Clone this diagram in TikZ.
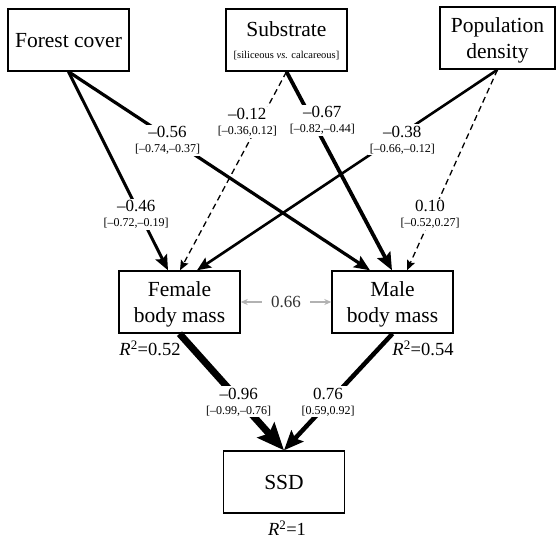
\documentclass[tikz,border=0pt]{standalone}
\usepackage{fontspec}
\setmainfont{Liberation Serif}
\usetikzlibrary{arrows.meta}
\newcommand{\coef}[2]{{\fontsize{17}{17}\selectfont #1}\\{\fontsize{12}{12}\selectfont #2}}
\newcommand{\rsq}[1]{\textit{R}\textsuperscript{2}=#1}
\begin{document}
\begin{tikzpicture}[x=1pt,y=-1pt,
    box/.style={draw, line width=1.4pt, minimum width=121pt, minimum height=62pt,
      align=center, inner sep=1pt, text depth=0pt, font=\fontsize{21.5}{26}\selectfont},
    eff/.style={line width=#1, -{Stealth[length=6pt 3, width=5pt 2.5, inset=1pt 0.5]}},
    eff/.default=3pt,
    ns/.style={eff=1.3pt, dash pattern=on 6pt off 4pt},
    lab/.style={fill=white, align=center, inner sep=1.5pt, font=\fontsize{12}{15}\selectfont},
    cor/.style={gray!60, line width=1.2pt, {Stealth[length=7pt,width=6pt]}-{Stealth[length=7pt,width=6pt]}},
    rlab/.style={inner sep=0pt, font=\fontsize{18.5}{20}\selectfont}]
  \useasboundingbox (0,0) rectangle (557,539);
  % boxes
  \node[box] (forest) at (68.5,40) {Forest cover};
  \node[box] (subst) at (286.5,40) {Substrate\\[-4pt]{\fontsize{10.5}{12}\selectfont [siliceous \textit{vs.} calcareous]}};
  \node[box, minimum width=115pt] (popd) at (497.5,38) {Population\\density};
  \node[box] (fem) at (179.5,302) {Female\\body mass};
  \node[box] (male) at (392.5,302) {Male\\body mass};
  \node[box] (ssd) at (284,482) {SSD};
  % R squared
  \node[rlab] (r2f) at (150,348) {\rsq{0.52}};
  \node[rlab] (r2m) at (423,348) {\rsq{0.54}};
  \node[rlab] (r2s) at (287,528) {\rsq{1}};
  % paths to body mass
  \draw[eff=3pt] (forest.south) -- node[lab, pos=.72, xshift=-4pt] {\coef{--0.46}{[--0.72,--0.19]}} ([xshift=-11.5pt]fem.north);
  \draw[eff=3.2pt] (forest.south) -- node[lab, pos=.345, xshift=-5pt] {\coef{--0.56}{[--0.74,--0.37]}} ([xshift=-22.5pt]male.north);
  \draw[ns] (subst.south) -- node[lab, pos=.255, xshift=-12pt] {\coef{--0.12}{[--0.36,0.12]}} ([xshift=0.5pt]fem.north);
  \draw[eff=3.8pt] (subst.south) -- node[lab, pos=.245, xshift=10pt] {\coef{--0.67}{[--0.82,--0.44]}} ([xshift=-0.5pt]male.north);
  \draw[eff=2.6pt] (popd.south) -- node[lab, pos=.35, xshift=10pt] {\coef{--0.38}{[--0.66,--0.12]}} ([xshift=17.5pt]fem.north);
  \draw[ns] (popd.south) -- node[lab, pos=.723, xshift=-2pt] {\coef{0.10}{[--0.52,0.27]}} ([xshift=14.5pt]male.north);
  % paths to SSD
  \draw[eff=7pt] (fem.south) -- node[lab, pos=.585, xshift=-2pt] {\coef{--0.96}{[--0.99,--0.76]}} (ssd.north);
  \draw[eff=4.5pt] (male.south) -- node[lab, pos=.585, xshift=-1pt] {\coef{0.76}{[0.59,0.92]}} (ssd.north);
  % correlation
  \draw[cor] (fem.east) -- node[fill=white, inner xsep=9pt, text=black!80, font=\fontsize{17}{17}\selectfont] (c66) {0.66} (male.west);
\end{tikzpicture}
\end{document}
